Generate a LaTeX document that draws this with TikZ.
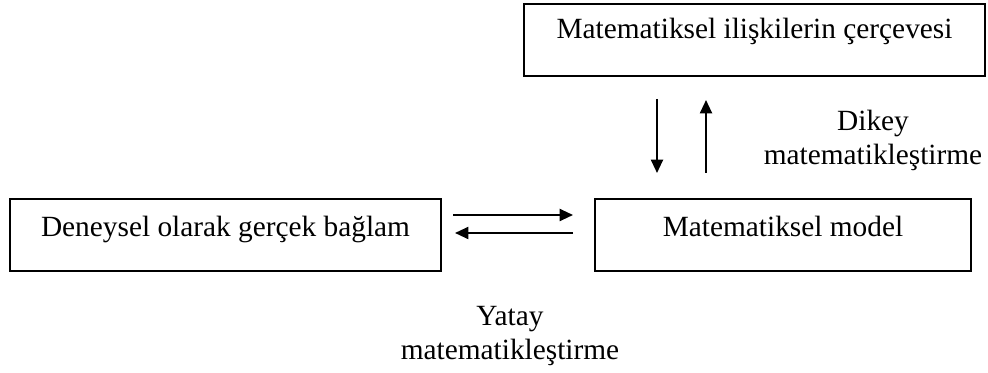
\documentclass[tikz,border=0pt]{standalone}
\usepackage{fontspec}
\setmainfont{Liberation Serif}
\usetikzlibrary{arrows.meta}
\tikzset{>={Triangle[length=10pt,width=9pt]}}
\tikzset{kutu/.style={draw, line width=0.8pt, inner ysep=0pt, font=\fontsize{22}{26}\selectfont}}
\tikzset{ok/.style={->, line width=1.5pt}}
\tikzset{etiket/.style={font=\fontsize{22}{25.5}\selectfont, align=center}}

\begin{document}
\begin{tikzpicture}[x=0.75pt, y=-0.75pt]
    \useasboundingbox (0,0) rectangle (988,373);
    % kutular
    \node[kutu, minimum width=461*0.75pt, text height=26pt, text depth=28pt] (cerceve) at (754.5,40) {Matematiksel ilişkilerin çerçevesi};
    \node[kutu, minimum width=431*0.75pt, text height=28.5pt, text depth=25.5pt] (baglam) at (225.5,235) {Deneysel olarak gerçek bağlam\hspace{16pt}};
    \node[kutu, minimum width=376*0.75pt, text height=28.5pt, text depth=25.5pt] (model) at (783,235) {Matematiksel model};
    % oklar
    \coordinate (r1) at (453,215);
    \coordinate (r2) at (573,215);
    \coordinate (l1) at (573,233);
    \coordinate (l2) at (455,233);
    \coordinate (d1) at (657,99);
    \coordinate (d2) at (657,173);
    \coordinate (u1) at (706,173);
    \coordinate (u2) at (706,100);
    \draw[ok] (r1) -- (r2);
    \draw[ok] (l1) -- (l2);
    \draw[ok] (d1) -- (d2);
    \draw[ok] (u1) -- (u2);
    % etiketler
    \node[etiket] (dikey) at (873,140) {Dikey\\matematikleştirme};
    \node[etiket] (yatay) at (510,336) {Yatay\\matematikleştirme};
\end{tikzpicture}
\end{document}
